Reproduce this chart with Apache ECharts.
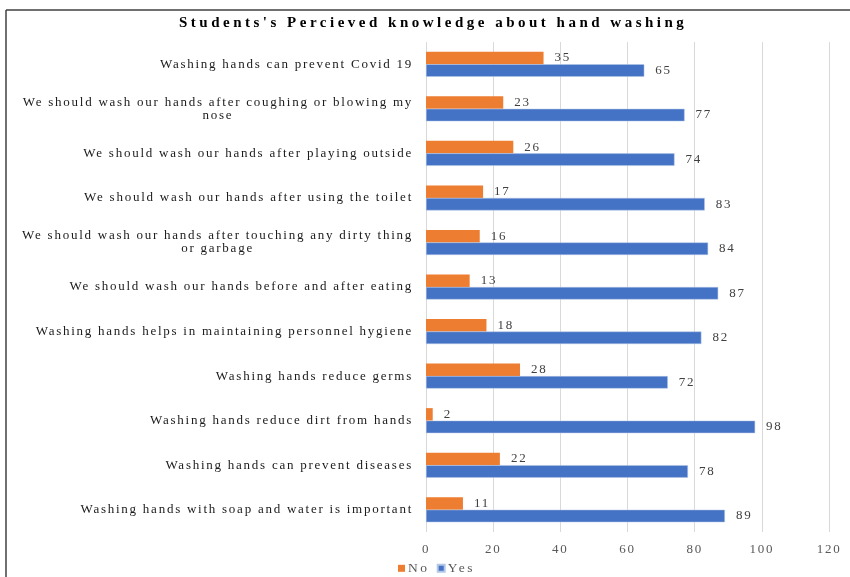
<!DOCTYPE html>
<html><head><meta charset="utf-8">
<script src="https://cdn.jsdelivr.net/npm/echarts@6/dist/echarts.min.js"></script>
<style>html,body{margin:0;padding:0;background:#fff}#c{width:850px;height:577px}</style>
</head><body><div id="c"></div>
<script>
const titleText = "Students's Percieved knowledge about hand washing";
const categories = [
  "Washing hands can prevent Covid 19",
  "We should wash our hands after coughing or blowing my\nnose",
  "We should wash our hands after playing outside",
  "We should wash our hands after using the toilet",
  "We should wash our hands after touching any dirty thing\nor garbage",
  "We should wash our hands before and after eating",
  "Washing hands helps in maintaining personnel hygiene",
  "Washing hands reduce germs",
  "Washing hands reduce dirt from hands",
  "Washing hands can prevent diseases",
  "Washing hands with soap and water is important"
];
const noValues = [35, 23, 26, 17, 16, 13, 18, 28, 2, 22, 11];
const yesValues = [65, 77, 74, 83, 84, 87, 82, 72, 98, 78, 89];
const seriesNames = ["No", "Yes"];
const xTicks = {min: 0, max: 120, interval: 20};

// Wide letter spacing, as in the reference rendering (applies to measuring and drawing)
(function () {
  const proto = CanvasRenderingContext2D.prototype;
  const desc = Object.getOwnPropertyDescriptor(proto, 'font');
  if (!desc || !('letterSpacing' in proto)) return;
  Object.defineProperty(proto, 'font', {
    configurable: true,
    get: function () { return desc.get.call(this); },
    set: function (v) {
      desc.set.call(this, v);
      const s = String(v);
      let ls = '1.75px';
      if (/bold/.test(s)) ls = '3.5px';
      else if (/13\.5px/.test(s)) ls = '2.6px';
      this.letterSpacing = ls;
    }
  });
})();

const FONT = "'Liberation Serif', 'Times New Roman', serif";
const chart = echarts.init(document.getElementById('c'), null, {renderer: 'canvas'});
chart.setOption({
  animation: false,
  backgroundColor: '#fff',
  title: {
    text: titleText, left: 174, top: 9,
    textStyle: {fontFamily: FONT, fontWeight: 'bold', fontSize: 15, color: '#000'}
  },
  legend: {
    data: seriesNames, top: 555, left: 393, itemWidth: 7, itemHeight: 7, itemGap: 7,
    icon: 'rect',
    textStyle: {fontFamily: FONT, fontSize: 13.5, color: '#595959', padding: [0, 0, 0, -2]}
  },
  grid: {left: 426, right: 21, top: 42, bottom: 45, containLabel: false},
  xAxis: {
    type: 'value', min: xTicks.min, max: xTicks.max, interval: xTicks.interval,
    axisLine: {show: false}, axisTick: {show: false},
    axisLabel: {fontFamily: FONT, fontSize: 13, color: '#595959', margin: 10},
    splitLine: {lineStyle: {color: '#d9d9d9', width: 1}}
  },
  yAxis: {
    type: 'category', data: categories, inverse: true,
    axisLine: {show: false}, axisTick: {show: false},
    axisLabel: {
      margin: 13, color: '#1a1a1a',
      formatter: function (v) { return v.split('\n').map(l => '{c|' + l + '}').join('\n'); },
      rich: {c: {align: 'center', fontFamily: FONT, fontSize: 13, color: '#1a1a1a', lineHeight: 13}}
    }
  },
  series: [
    {name: 'No', type: 'bar', data: noValues, barWidth: 12.5, barGap: '0%',
     itemStyle: {color: '#ED7D31'},
     label: {show: true, position: 'right', distance: 11, fontFamily: FONT, fontSize: 13, color: '#404040'}},
    {name: 'Yes', type: 'bar', data: yesValues, barWidth: 12.5, barGap: '0%',
     itemStyle: {color: '#4472C4', borderColor: '#b4c7e7', borderWidth: 0.5},
     label: {show: true, position: 'right', distance: 11, fontFamily: FONT, fontSize: 13, color: '#404040'}}
  ],
  graphic: [
    {type: 'line', shape: {x1: 6, y1: 10, x2: 850, y2: 10}, style: {stroke: '#404040', lineWidth: 1.5}},
    {type: 'line', shape: {x1: 6, y1: 10, x2: 6, y2: 577}, style: {stroke: '#404040', lineWidth: 1.5}}
  ]
});
</script></body></html>
